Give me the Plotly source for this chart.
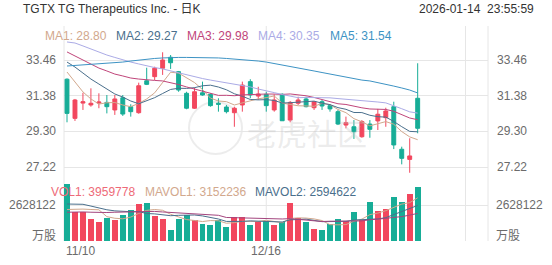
import plotly.graph_objects as go
import pandas as pd

W, H = 552, 265

# ---------------- data ----------------
opens = [32.34, 30.06, 30.95, 30.84, 30.95, 30.99, 30.55, 31.26, 30.74, 30.39,
         32.25, 32.49, 32.98, 33.62, 32.78, 31.52, 30.65, 31.55, 31.46, 30.94,
         30.72, 30.39, 30.84, 32.20, 31.36, 31.46, 30.55, 31.46, 29.96, 30.94,
         31.19, 30.68, 31.03, 30.80, 30.45, 29.67, 29.57, 28.99, 29.73, 29.91,
         30.10, 30.74, 28.26, 27.67, 31.23]
highs = [32.39, 31.19, 31.55, 31.81, 31.52, 31.42, 31.42, 31.42, 30.88, 32.14,
         33.01, 33.07, 33.91, 33.75, 32.82, 31.61, 31.85, 32.20, 31.52, 31.23,
         30.84, 30.74, 32.20, 32.34, 31.90, 31.61, 31.46, 31.52, 31.07, 31.32,
         31.32, 31.07, 31.13, 30.88, 30.55, 30.16, 29.96, 29.96, 29.96, 30.61,
         30.68, 31.03, 28.41, 28.90, 33.27]
lows = [29.83, 29.91, 30.55, 30.74, 30.65, 30.35, 30.26, 30.20, 30.16, 30.33,
        32.00, 32.29, 32.59, 32.94, 31.61, 30.59, 30.61, 31.38, 30.74, 30.45,
        30.35, 29.57, 30.45, 31.23, 31.13, 30.45, 30.45, 29.91, 29.83, 30.84,
        30.70, 30.55, 30.55, 30.45, 29.67, 29.48, 28.86, 28.93, 28.93, 29.38,
        29.57, 28.27, 27.38, 26.89, 29.19]
closes = [30.35, 31.13, 31.03, 30.94, 31.01, 30.74, 31.19, 30.31, 30.45, 31.96,
          32.04, 32.98, 33.46, 33.30, 31.71, 30.65, 31.61, 31.42, 30.80, 30.88,
          30.45, 30.65, 32.00, 31.42, 31.48, 30.80, 31.13, 29.92, 30.99, 31.13,
          30.74, 31.03, 30.78, 30.61, 29.73, 29.81, 29.28, 29.87, 29.42, 30.30,
          30.49, 28.51, 27.73, 27.87, 29.48]
volumes = [4160000, 2120000, 2120000, 1630000, 1360000, 1660000, 1530000, 1920000, 2260000, 2700000,
           2770000, 1850000, 1630000, 800000, 1630000, 1900000, 1530000, 1240000, 1150000, 1560000,
           1000000, 1750000, 1750000, 1190000, 1440000, 1440000, 1190000, 1390000, 2750000, 1680000,
           1360000, 880000, 800000, 1240000, 1630000, 1440000, 2120000, 1560000, 2870000, 2200000,
           2320000, 3240000, 2830000, 3410000, 3959778]

x_labels = ["11/10", "12/16"]
x_label_idx = [0, 25]

# moving-average values before enough visible history exists
ma1_head = [32.76, 32.18, 31.60, 31.19]
ma2_head = [33.34, 33.05, 32.70, 32.35, 32.06, 31.77, 31.48, 31.30, 31.07]
ma3_head = [33.93, 33.69, 33.46, 33.23, 32.99, 32.82, 32.64, 32.53, 32.41, 32.35,
            32.29, 32.27, 32.24, 32.15, 32.03, 31.89, 31.77, 31.65, 31.54]
ma4_head = [34.51, 34.45, 34.28, 34.10, 33.93, 33.75, 33.61, 33.46, 33.34, 33.23,
            33.11, 33.02, 32.94, 32.82, 32.70, 32.59, 32.47, 32.38, 32.29, 32.21,
            32.12, 32.06, 32.00, 31.89, 31.77, 31.68, 31.56, 31.45, 31.35]
ma5 = [33.11, 33.14, 33.17, 33.20, 33.23, 33.29, 33.31, 33.34, 33.40, 33.46,
       33.52, 33.55, 33.58, 33.61, 33.61, 33.61, 33.61, 33.61, 33.58, 33.58,
       33.55, 33.52, 33.49, 33.46, 33.40, 33.34, 33.26, 33.17, 33.08, 32.99,
       32.91, 32.82, 32.73, 32.64, 32.53, 32.44, 32.35, 32.29, 32.24, 32.15,
       32.06, 31.94, 31.83, 31.71, 31.54]
mavol1_head = [2300000, 2320000, 2330000, 2300000]
mavol2_head = [2700000, 2700000, 2680000, 2550000, 2400000, 2280000, 2200000, 2160000, 2140000]
mavol3_head = [2100000, 2120000, 2120000, 2100000, 2080000, 2080000, 2100000, 2120000, 2140000, 2160000,
               2180000, 2160000, 2120000, 2080000, 2040000, 2000000, 1970000, 1940000, 1910000]

ma_legend = ["MA1: 28.80", "MA2: 29.27", "MA3: 29.98", "MA4: 30.35", "MA5: 31.54"]
vol_legend = ["VOL1: 3959778", "MAVOL1: 3152236", "MAVOL2: 2594622"]
price_ticks = [33.46, 31.38, 29.30, 27.22]
vol_tick = 2628122

# ---------------- helpers ----------------
def rolled(series, head, period):
    r = pd.Series(series, dtype=float).rolling(period).mean().tolist()
    return list(head) + r[len(head):]

ma1 = rolled(closes, ma1_head, 5)
ma2 = rolled(closes, ma2_head, 10)
ma3 = rolled(closes, ma3_head, 20)
ma4 = rolled(closes, ma4_head, 30)
mavol1 = rolled(volumes, mavol1_head, 5)
mavol2 = rolled(volumes, mavol2_head, 10)
mavol3 = rolled(volumes, mavol3_head, 20)

n = len(closes)
idx = list(range(n))

RED = "#f2475e"
TEAL = "#17ad97"
MA_COLORS = ["#d2a88d", "#4a6f8c", "#c0457a", "#ababe6", "#3d93c4"]
MAVOL_COLORS = ["#d2a88d", "#4a6f8c", "#a3457e"]
GRID = "#e6e6e6"
LABEL = "#6b6b6b"
FONT = "Arial, 'Liberation Sans', 'Noto Sans CJK SC', sans-serif"

def py(p):
    return 1 - p / H

def pxp(p):
    return p / W

# pixel calibration of layout
STEP = 7.97
X0PX = 67
LEFT, RIGHT = 64, 488
k = 2.08 / 35.7
price_top = 33.46 + (60 - 26) * k
price_bot = 33.46 - (180 - 60) * k
vol_per_px = 2628122 / 36.0
vol_top = (241 - 182) * vol_per_px

x_lo = (LEFT - X0PX) / STEP
x_hi = (RIGHT - X0PX) / STEP

fig = go.Figure()

fig.add_trace(go.Candlestick(
    x=idx, open=opens, high=highs, low=lows, close=closes,
    increasing=dict(line=dict(color=RED, width=1), fillcolor=RED),
    decreasing=dict(line=dict(color=TEAL, width=1), fillcolor=TEAL),
    whiskerwidth=0, xaxis="x", yaxis="y", showlegend=False, hoverinfo="skip"))

for vals, c in zip([ma1, ma2, ma3, ma4, ma5], MA_COLORS):
    fig.add_trace(go.Scatter(x=idx, y=vals, mode="lines", line=dict(color=c, width=1),
                             xaxis="x", yaxis="y", showlegend=False, hoverinfo="skip"))

bar_colors = [RED if c >= o else TEAL for o, c in zip(opens, closes)]
fig.add_trace(go.Bar(x=idx, y=volumes, marker=dict(color=bar_colors, line=dict(width=0)),
                     width=0.75, xaxis="x2", yaxis="y2", showlegend=False, hoverinfo="skip"))

for vals, c in zip([mavol1, mavol2, mavol3], MAVOL_COLORS):
    fig.add_trace(go.Scatter(x=idx, y=vals, mode="lines", line=dict(color=c, width=1),
                             xaxis="x2", yaxis="y2", showlegend=False, hoverinfo="skip"))

dom_x = [pxp(LEFT), pxp(RIGHT)]
fig.update_layout(
    width=W, height=H, margin=dict(l=0, r=0, t=0, b=0),
    paper_bgcolor="white", plot_bgcolor="white",
    font=dict(family=FONT, size=12, color=LABEL),
    xaxis=dict(domain=dom_x, range=[x_lo, x_hi], anchor="y", showgrid=False, zeroline=False,
               showticklabels=False, rangeslider=dict(visible=False), fixedrange=True),
    yaxis=dict(domain=[py(180), py(26)], range=[price_bot, price_top], tickvals=price_ticks,
               showgrid=True, gridcolor=GRID, gridwidth=1, zeroline=False, showticklabels=False),
    xaxis2=dict(domain=dom_x, range=[x_lo, x_hi], anchor="y2", showgrid=False, zeroline=False,
                showticklabels=False, matches="x"),
    yaxis2=dict(domain=[py(241), py(182)], range=[0, vol_top], tickvals=[0, vol_tick],
                showgrid=True, gridcolor=GRID, gridwidth=1, zeroline=False, showticklabels=False),
    bargap=0,
)

shapes = []
# vertical frame / grid lines
for xp in [LEFT, RIGHT]:
    shapes.append(dict(type="line", xref="paper", yref="paper", x0=pxp(xp), x1=pxp(xp),
                       y0=py(241), y1=py(26), line=dict(color=GRID, width=1), layer="below"))
for xi in [25, 50]:
    shapes.append(dict(type="line", xref="x", yref="paper", x0=xi, x1=xi,
                       y0=py(241), y1=py(26), line=dict(color=GRID, width=1), layer="below"))
# watermark logo circle
shapes.append(dict(type="circle", xref="paper", yref="paper", x0=pxp(189), x1=pxp(242),
                   y0=py(154), y1=py(102), line=dict(color="rgba(200,200,200,0.35)", width=2),
                   layer="below"))
fig.update_layout(shapes=shapes)

ann = []
ann.append(dict(text="TGTX TG Therapeutics Inc. - 日K", x=pxp(21), y=py(9), xref="paper", yref="paper",
                xanchor="left", yanchor="middle", showarrow=False, font=dict(size=12, color="#333333")))
ann.append(dict(text="2026-01-14 \u00a023:55:59", x=pxp(536), y=py(9), xref="paper", yref="paper",
                xanchor="right", yanchor="middle", showarrow=False, font=dict(size=12, color="#333333")))
ma_x = [43, 114, 185, 256, 328]
for t, xp, c in zip(ma_legend, ma_x, MA_COLORS):
    ann.append(dict(text=t, x=pxp(xp), y=py(36), xref="paper", yref="paper", xanchor="left",
                    yanchor="middle", showarrow=False, font=dict(size=12, color=c)))
for pv in price_ticks:
    lbl = f"{pv:.2f}"
    ann.append(dict(text=lbl, x=pxp(58), y=pv, xref="paper", yref="y", xanchor="right",
                    yanchor="middle", showarrow=False, font=dict(size=12, color=LABEL)))
    ann.append(dict(text=lbl, x=pxp(495), y=pv, xref="paper", yref="y", xanchor="left",
                    yanchor="middle", showarrow=False, font=dict(size=12, color=LABEL)))
ann.append(dict(text=str(vol_tick), x=pxp(58), y=vol_tick, xref="paper", yref="y2", xanchor="right",
                yanchor="middle", showarrow=False, font=dict(size=12, color=LABEL)))
ann.append(dict(text=str(vol_tick), x=pxp(494), y=vol_tick, xref="paper", yref="y2", xanchor="left",
                yanchor="middle", showarrow=False, font=dict(size=12, color=LABEL)))
ann.append(dict(text="万股", x=pxp(58), y=py(236), xref="paper", yref="paper", xanchor="right",
                yanchor="middle", showarrow=False, font=dict(size=12, color=LABEL)))
ann.append(dict(text="万股", x=pxp(494), y=py(236), xref="paper", yref="paper", xanchor="left",
                yanchor="middle", showarrow=False, font=dict(size=12, color=LABEL)))
vol_x = [49, 143, 253]
vol_c = ["#ee6a78", MAVOL_COLORS[0], MAVOL_COLORS[1]]
for t, xp, c in zip(vol_legend, vol_x, vol_c):
    ann.append(dict(text=t, x=pxp(xp), y=py(192), xref="paper", yref="paper", xanchor="left",
                    yanchor="middle", showarrow=False, font=dict(size=12, color=c)))
# x labels
ann.append(dict(text=x_labels[0], x=pxp(LEFT), y=py(251), xref="paper", yref="paper", xanchor="left",
                yanchor="middle", showarrow=False, font=dict(size=12, color=LABEL)))
ann.append(dict(text=x_labels[1], x=x_label_idx[1], y=py(251), xref="x", yref="paper", xanchor="center",
                yanchor="middle", showarrow=False, font=dict(size=12, color=LABEL)))
# watermark text
ann.append(dict(text="老虎社区", x=pxp(307), y=py(132), xref="paper", yref="paper", xanchor="center",
                yanchor="middle", showarrow=False,
                font=dict(size=30, color="rgba(190,190,190,0.30)", family="'Noto Sans CJK SC'")))
fig.update_layout(annotations=ann)

fig.write_html("out.html")
